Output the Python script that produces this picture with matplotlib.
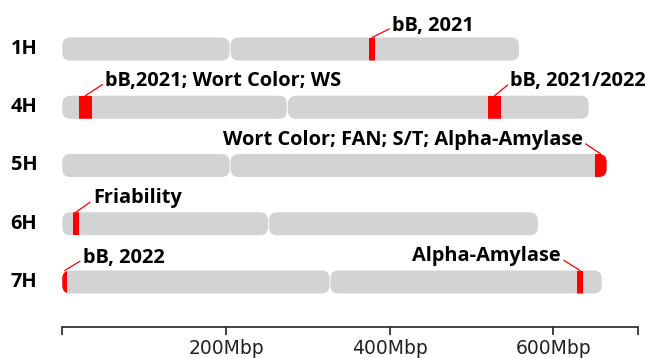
import matplotlib
matplotlib.use("Agg")
import matplotlib.pyplot as plt
from matplotlib.patches import FancyBboxPatch, Rectangle

# Chromosome layout (Mbp)
chromosomes = ["1H", "4H", "5H", "6H", "7H"]
chrom_length = [558, 643, 665, 581, 659]
centromere = [205, 275, 205, 252, 327]

# QTL regions (Mbp) and their trait labels
qtl_chrom = ["1H", "4H", "4H", "5H", "6H", "7H", "7H"]
qtl_start = [375, 20, 520, 651, 13, 0, 629]
qtl_end = [382, 36, 536, 665, 20, 6, 636]
qtl_label = ["bB, 2021", "bB,2021; Wort Color; WS", "bB, 2021/2022",
             "Wort Color; FAN; S/T; Alpha-Amylase", "Friability",
             "bB, 2022", "Alpha-Amylase"]
# label offset from the top of the region, in pixels, and alignment
qtl_offset = [(20, 12), (20, 15), (16, 15), (-18, 14), (17, 14), (18, 13), (-19, 14)]
qtl_ha = ["left", "left", "left", "right", "left", "left", "right"]

axis_ticks = [0, 200, 400, 600, 703]
axis_labels = ["", "200Mbp", "400Mbp", "600Mbp", ""]

W, H, DPI = 645, 358, 100
px_per_mbp = 0.8185
x0_px = 62.3
row0_px, row_step_px = 49, 58.25
bar_h = 23 / row_step_px

fig = plt.figure(figsize=(W / DPI, H / DPI), dpi=DPI)
ax = fig.add_axes([0, 0, 1, 1])
ax.set_xlim(-x0_px / px_per_mbp, (W - x0_px) / px_per_mbp)
ax.set_ylim((H - row0_px) / row_step_px, -row0_px / row_step_px)
ax.axis("off")

grey = "#d3d3d3"
red = "#ff0000"
aspect = px_per_mbp / row_step_px
r_mbp = 8 / px_per_mbp
gap = 1.2

label_font = dict(family=["Open Sans", "DejaVu Sans"], fontweight="bold", fontsize=14.4)

arms = {}
for i, (name, length, cen) in enumerate(zip(chromosomes, chrom_length, centromere)):
    parts = []
    for a, b in [(0, cen - gap / 2), (cen + gap / 2, length)]:
        p = FancyBboxPatch((a, i - bar_h / 2), b - a, bar_h,
                           boxstyle=f"round,pad=0,rounding_size={r_mbp}",
                           mutation_aspect=aspect, fc=grey, ec="none", zorder=1)
        ax.add_patch(p)
        parts.append((a, b, p))
    arms[name] = parts
    ax.text(-x0_px / px_per_mbp + 24 / px_per_mbp, i, name, ha="center", va="center",
            **label_font)

for c, s, e, lab, off, ha in zip(qtl_chrom, qtl_start, qtl_end, qtl_label, qtl_offset, qtl_ha):
    i = chromosomes.index(c)
    for a, b, p in arms[c]:
        if s < b and e > a:
            rect = Rectangle((s, i - bar_h / 2), e - s, bar_h, fc=red, ec="none", zorder=2)
            ax.add_patch(rect)
            rect.set_clip_path(p)
    xm = (s + e) / 2
    ax.annotate(lab, xy=(xm, i - bar_h / 2), xytext=off, textcoords="offset pixels",
                ha=ha, va="center", zorder=3,
                arrowprops=dict(arrowstyle="-", color=red, lw=0.9, shrinkA=0, shrinkB=0,
                                relpos=(0 if ha == "left" else 1, 0.4)),
                **label_font)

# scale bar
axis_y_px = 327
sx = fig.add_axes([x0_px / W, (H - axis_y_px) / H, (axis_ticks[-1] * px_per_mbp) / W, 0.0001])
sx.set_xlim(axis_ticks[0], axis_ticks[-1])
sx.set_ylim(0, 1)
for sp in ["top", "left", "right"]:
    sx.spines[sp].set_visible(False)
sx.spines["bottom"].set_linewidth(1.2)
sx.spines["bottom"].set_color("#222222")
sx.set_yticks([])
sx.set_xticks(axis_ticks)
sx.set_xticklabels(axis_labels)
sx.tick_params(axis="x", direction="out", length=6, width=1.2, color="#222222",
               pad=3, labelsize=13.5, labelcolor="#222222")
sx.patch.set_visible(False)

fig.savefig("out.png", dpi=DPI)
